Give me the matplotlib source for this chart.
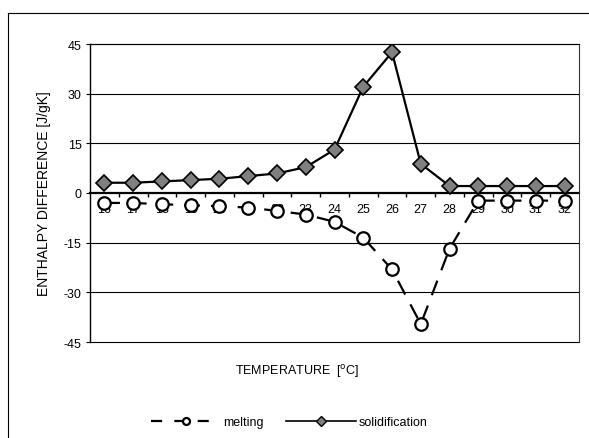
import matplotlib
matplotlib.use("Agg")
import matplotlib.pyplot as plt
from matplotlib.lines import Line2D

plt.rcParams['font.family'] = ['Liberation Sans', 'DejaVu Sans']

# Data
temperature = [16, 17, 18, 19, 20, 21, 22, 23, 24, 25, 26, 27, 28, 29, 30, 31, 32]
melting = [-3.0, -3.0, -3.4, -3.7, -4.0, -4.4, -5.4, -6.5, -8.7, -13.5, -23.1, -39.6, -16.8,
           -2.3, -2.3, -2.3, -2.3]
solidification = [3.1, 3.1, 3.5, 3.9, 4.3, 5.1, 5.9, 7.8, 13.1, 32.1, 42.5, 8.8, 2.1,
                  2.1, 2.1, 2.1, 2.1]
y_ticks = [-45, -30, -15, 0, 15, 30, 45]

fs = 9
fig = plt.figure(figsize=(5.89, 4.39), dpi=100)
ax = fig.add_axes([90 / 589, 1 - 343 / 439, 489 / 589, 298 / 439])

pos = list(range(len(temperature)))

# gridlines
for v in y_ticks:
    if v != 0:
        ax.axhline(v, color='black', lw=0.8, zorder=1, clip_on=False)

ax.plot(pos, melting, color='black', lw=1.6, dashes=(7, 5), marker='o', markersize=9,
        markerfacecolor='white', markeredgecolor='black', markeredgewidth=1.6, zorder=3)
ax.plot(pos, solidification, color='black', lw=1.6, marker='D', markersize=8,
        markerfacecolor='#808080', markeredgecolor='black', markeredgewidth=1.2, zorder=4)

ax.set_xlim(-0.5, len(temperature) - 0.5)
ax.set_ylim(-45, 45)
ax.set_yticks(y_ticks)
ax.set_yticklabels([str(v) for v in y_ticks], fontsize=fs)
ax.tick_params(axis='y', length=3, width=0.8, pad=3)

# category axis crossing at zero
ax.spines['bottom'].set_position(('data', 0))
ax.spines['bottom'].set_linewidth(1.6)
ax.spines['bottom'].set_zorder(2)
ax.set_xticks([p + 0.5 for p in pos[:-1]], minor=True)
ax.set_xticks(pos)
ax.set_xticklabels([str(t) for t in temperature], fontsize=fs)
ax.tick_params(axis='x', which='major', length=0, pad=7)
ax.tick_params(axis='x', which='minor', length=3, width=1.0, direction='out')
ax.spines['left'].set_linewidth(1.0)
ax.spines['top'].set_linewidth(0.8)
ax.spines['right'].set_linewidth(0.8)
ax.spines['right'].set_color('#333333')

fig.text(44 / 589, 1 - 194 / 439, 'ENTHALPY DIFFERENCE [J/gK]', rotation=90,
         ha='center', va='center', fontsize=10)
fig.text(297 / 589, 1 - 372 / 439, 'TEMPERATURE  [$^{\\rm o}$C]', ha='center', va='center',
         fontsize=fs)

# outer chart-area border
fig.add_artist(Line2D([8 / 589, 1], [1 - 14 / 439, 1 - 14 / 439], color='black', lw=0.8))
fig.add_artist(Line2D([8 / 589, 8 / 589], [0, 1 - 14 / 439], color='black', lw=0.8))

handles = [
    Line2D([], [], color='black', lw=1.6, dashes=(5, 5.5), marker='o', markersize=5,
           markerfacecolor='white', markeredgecolor='black', markeredgewidth=1.6),
    Line2D([], [], color='black', lw=1.2, marker='D', markersize=5,
           markerfacecolor='#808080', markeredgecolor='black', markeredgewidth=1.0),
]
fig.legend(handles, ['melting', 'solidification'], loc='center', ncol=2, frameon=False,
           bbox_to_anchor=(289 / 589, 1 - 423 / 439), fontsize=fs, handlelength=5.6,
           handletextpad=0.2, columnspacing=1.8)

fig.savefig('out.png', dpi=100)
